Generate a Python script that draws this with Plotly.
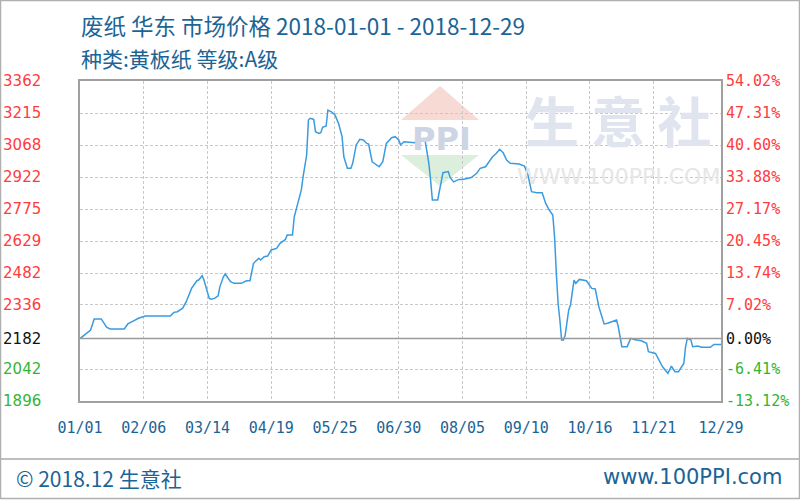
import plotly.graph_objects as go

# ---------------- data ----------------
dates = [
    "2018-01-01", "2018-01-07", "2018-01-09", "2018-01-13", "2018-01-16", "2018-01-18",
    "2018-01-26", "2018-01-28", "2018-01-31", "2018-02-03", "2018-02-07", "2018-02-21",
    "2018-02-23", "2018-02-25", "2018-02-28", "2018-03-02", "2018-03-05", "2018-03-08",
    "2018-03-09", "2018-03-11", "2018-03-12", "2018-03-15", "2018-03-16", "2018-03-18",
    "2018-03-20", "2018-03-21", "2018-03-23", "2018-03-24", "2018-03-27", "2018-03-29",
    "2018-04-02", "2018-04-05", "2018-04-07", "2018-04-09", "2018-04-12", "2018-04-13",
    "2018-04-15", "2018-04-17", "2018-04-19", "2018-04-22", "2018-04-24", "2018-04-27",
    "2018-04-28", "2018-05-01", "2018-05-02", "2018-05-04", "2018-05-06", "2018-05-07",
    "2018-05-09", "2018-05-10", "2018-05-11", "2018-05-13", "2018-05-14", "2018-05-16",
    "2018-05-17", "2018-05-18", "2018-05-20", "2018-05-21", "2018-05-23", "2018-05-25",
    "2018-05-27", "2018-05-29", "2018-05-30", "2018-06-01", "2018-06-03", "2018-06-04",
    "2018-06-06", "2018-06-08", "2018-06-10", "2018-06-12", "2018-06-13", "2018-06-15",
    "2018-06-17", "2018-06-19", "2018-06-21", "2018-06-23", "2018-06-26", "2018-06-28",
    "2018-06-30", "2018-07-01", "2018-07-03", "2018-07-09", "2018-07-11", "2018-07-14",
    "2018-07-15", "2018-07-17", "2018-07-18", "2018-07-19", "2018-07-22", "2018-07-23",
    "2018-07-25", "2018-07-28", "2018-07-29", "2018-07-31", "2018-08-03", "2018-08-05",
    "2018-08-10", "2018-08-13", "2018-08-15", "2018-08-18", "2018-08-20", "2018-08-22",
    "2018-08-24", "2018-08-26", "2018-08-28", "2018-08-30", "2018-09-01", "2018-09-06",
    "2018-09-09", "2018-09-11", "2018-09-12", "2018-09-13", "2018-09-16", "2018-09-19",
    "2018-09-21", "2018-09-22", "2018-09-23", "2018-09-25", "2018-09-26", "2018-09-27",
    "2018-09-28", "2018-09-29", "2018-09-30", "2018-10-01", "2018-10-02", "2018-10-04",
    "2018-10-05", "2018-10-07", "2018-10-08", "2018-10-10", "2018-10-14", "2018-10-17",
    "2018-10-19", "2018-10-21", "2018-10-24", "2018-10-26", "2018-10-29", "2018-10-31",
    "2018-11-01", "2018-11-02", "2018-11-03", "2018-11-06", "2018-11-08", "2018-11-10",
    "2018-11-14", "2018-11-17", "2018-11-18", "2018-11-22", "2018-11-24", "2018-11-26",
    "2018-11-29", "2018-12-01", "2018-12-03", "2018-12-05", "2018-12-08", "2018-12-09",
    "2018-12-10", "2018-12-12", "2018-12-13", "2018-12-16", "2018-12-18", "2018-12-23",
    "2018-12-25", "2018-12-29",
]
prices = [
    2182, 2221, 2272, 2272, 2234, 2226,
    2226, 2249, 2262, 2275, 2285, 2285,
    2302, 2305, 2321, 2351, 2412, 2447,
    2450, 2470, 2450, 2366, 2362, 2366,
    2378, 2420, 2465, 2478, 2443, 2435,
    2435, 2447, 2447, 2527, 2550, 2542,
    2557, 2560, 2588, 2595, 2618, 2636,
    2656, 2656, 2740, 2801, 2863, 2924,
    3023, 3183, 3191, 3186, 3130, 3122,
    3125, 3150, 3156, 3229, 3221, 3206,
    3168, 3107, 3015, 2962, 2962, 2985,
    3069, 3095, 3092, 3076, 3073, 2992,
    2982, 2969, 2992, 3076, 3102, 3107,
    3092, 3070, 3084, 3079, 3088, 3099,
    3084, 2985, 2908, 2817, 2817, 2863,
    2942, 2947, 2920, 2900, 2911, 2911,
    2920, 2939, 2962, 2969, 2992, 3015,
    3030, 3049, 3033, 2999, 2985, 2982,
    2972, 2931, 2893, 2855, 2850, 2850,
    2801, 2783, 2771, 2748, 2649, 2481,
    2344, 2267, 2175, 2175, 2198, 2313,
    2336, 2450, 2435, 2453, 2447, 2412,
    2409, 2328, 2249, 2252, 2259, 2267,
    2236, 2183, 2145, 2145, 2183, 2178,
    2172, 2160, 2122, 2114, 2084, 2053,
    2023, 2056, 2030, 2030, 2068, 2145,
    2183, 2175, 2145, 2148, 2142, 2142,
    2155, 2155,
]
base_price = 2182
left_tick_values = [3362, 3215, 3068, 2922, 2775, 2629, 2482, 2336, 2182, 2042, 1896]
right_tick_labels = ["54.02%", "47.31%", "40.60%", "33.88%", "27.17%", "20.45%",
                     "13.74%", "7.02%", "0.00%", "-6.41%", "-13.12%"]
x_tick_dates = ["2018-01-01", "2018-02-06", "2018-03-14", "2018-04-19", "2018-05-25",
                "2018-06-30", "2018-08-05", "2018-09-10", "2018-10-16", "2018-11-21",
                "2018-12-29"]
x_tick_labels = ["01/01", "02/06", "03/14", "04/19", "05/25", "06/30", "08/05",
                 "09/10", "10/16", "11/21", "12/29"]

title_line1 = "废纸 华东 市场价格 2018-01-01 - 2018-12-29"
title_line2 = "种类:黄板纸 等级:A级"
footer_left = "© 2018.12 生意社"
footer_right = "www.100PPI.com"
watermark_name = "生 意 社"
watermark_url = "WWW.100PPI.COM"
watermark_logo = "PPI"

# ---------------- styling ----------------
RED = "#ff3b3b"
GREEN = "#33b533"
BLACK = "#111111"
BLUE_TXT = "#1b6496"
LINE = "#3a9be0"
GRID = "#c8c8c8"
FRAME = "#a0a0a0"

W, H = 800, 500
L, R, T, B = 80, 79, 81, 99
PW, PH = W - L - R, H - T - B


def px(xp):
    return (xp - L) / PW


def py(yp):
    return (H - B - yp) / PH


def colour_for(v):
    if v > base_price:
        return RED
    if v < base_price:
        return GREEN
    return BLACK


left_text = [f'<span style="color:{colour_for(v)}">{v}</span>' for v in left_tick_values]
right_text = [f'<span style="color:{colour_for(v)}">{t}</span>'
              for v, t in zip(left_tick_values, right_tick_labels)]

fig = go.Figure()
fig.add_trace(go.Scatter(x=dates, y=prices, mode="lines",
                         line=dict(color=LINE, width=1.5, shape="linear"),
                         showlegend=False, hoverinfo="x+y"))
fig.add_trace(go.Scatter(x=dates, y=prices, mode="lines", yaxis="y2",
                         line=dict(color="rgba(0,0,0,0)", width=0),
                         showlegend=False, hoverinfo="skip"))

yrange = [min(left_tick_values), max(left_tick_values)]

fig.update_layout(
    width=W, height=H,
    margin=dict(l=L, r=R, t=T, b=B, pad=0, autoexpand=False),
    paper_bgcolor="white", plot_bgcolor="white",
    font=dict(family="DejaVu Sans", size=14, color=BLUE_TXT),
    xaxis=dict(
        type="date", range=[dates[0], dates[-1]],
        tickvals=x_tick_dates, ticktext=x_tick_labels,
        tickfont=dict(family="DejaVu Sans Mono", size=15, color=BLUE_TXT),
        ticks="", ticklabelstandoff=12, automargin=False,
        showgrid=True, gridcolor=GRID, griddash="3px,2px", gridwidth=1,
        showline=True, linecolor=FRAME, linewidth=1.5, mirror=True,
        zeroline=False, fixedrange=True,
    ),
    yaxis=dict(
        range=yrange, tickvals=left_tick_values, ticktext=left_text,
        tickfont=dict(family="DejaVu Sans", size=15, color=BLACK),
        ticks="", ticklabelstandoff=34, automargin=False,
        showgrid=True, gridcolor=GRID, griddash="3px,2px", gridwidth=1,
        showline=True, linecolor=FRAME, linewidth=1.5, mirror=True,
        zeroline=False, fixedrange=True,
    ),
    yaxis2=dict(
        overlaying="y", side="right", range=yrange,
        tickvals=left_tick_values, ticktext=right_text,
        tickfont=dict(family="DejaVu Sans Mono", size=15, color=BLACK),
        ticks="", ticklabelstandoff=4, automargin=False,
        showgrid=False, showline=False, zeroline=False, fixedrange=True,
    ),
)

# baseline (0 %) line
fig.add_shape(type="line", xref="paper", yref="y", x0=0, x1=1, y0=base_price, y1=base_price,
              line=dict(color="#9a9a9a", width=1.5), layer="above")

# 生意社 watermark (background)
fig.add_shape(type="path", xref="paper", yref="paper", layer="below",
              path=f"M {px(440)},{py(86)} L {px(401)},{py(120)} L {px(479)},{py(120)} Z",
              fillcolor="#f8dad5", line=dict(width=0))
fig.add_shape(type="path", xref="paper", yref="paper", layer="below",
              path=f"M {px(401)},{py(155)} L {px(479)},{py(155)} L {px(440)},{py(186)} Z",
              fillcolor="#dcefdc", line=dict(width=0))
fig.add_annotation(text=f"<b>{watermark_logo}</b>", xref="paper", yref="paper",
                   x=px(441), y=py(139), xanchor="center", yanchor="middle",
                   showarrow=False, font=dict(family="DejaVu Sans", size=32, color="#cdd4e4"))
fig.add_annotation(text=f"<b>{watermark_name}</b>", xref="paper", yref="paper",
                   x=px(618), y=py(120), xanchor="center", yanchor="middle",
                   showarrow=False,
                   font=dict(family="Noto Sans CJK SC", size=54, color="#dfe4ee"))
fig.add_annotation(text=watermark_url, xref="paper", yref="paper",
                   x=px(618), y=py(176), xanchor="center", yanchor="middle",
                   showarrow=False, font=dict(family="DejaVu Sans", size=22, color="#e6e6e6"))

# titles
fig.add_annotation(text=title_line1, xref="paper", yref="paper", x=px(79), y=py(25),
                   xanchor="left", yanchor="middle", showarrow=False,
                   font=dict(family="Noto Sans CJK SC", size=22.5, color=BLUE_TXT))
fig.add_annotation(text=title_line2, xref="paper", yref="paper", x=px(79), y=py(58),
                   xanchor="left", yanchor="middle", showarrow=False,
                   font=dict(family="Noto Sans CJK SC", size=21, color=BLUE_TXT))

# footer
fig.add_shape(type="line", xref="paper", yref="paper", x0=px(0), x1=px(800),
              y0=py(459), y1=py(459), line=dict(color="#a8a8a8", width=1.5))
fig.add_shape(type="rect", xref="paper", yref="paper", x0=px(0.5), x1=px(799.5),
              y0=py(498.5), y1=py(0.5), line=dict(color="#b0b0b0", width=1.5))
fig.add_annotation(text=footer_left, xref="paper", yref="paper", x=px(14), y=py(478),
                   xanchor="left", yanchor="middle", showarrow=False,
                   font=dict(family="Noto Sans CJK SC", size=21, color=BLUE_TXT))
fig.add_annotation(text=footer_right, xref="paper", yref="paper", x=px(784), y=py(477),
                   xanchor="right", yanchor="middle", showarrow=False,
                   font=dict(family="DejaVu Sans", size=21, color=BLUE_TXT))

fig.write_html("out.html", config={"displayModeBar": False},
               post_script="document.body.style.margin='0';")
